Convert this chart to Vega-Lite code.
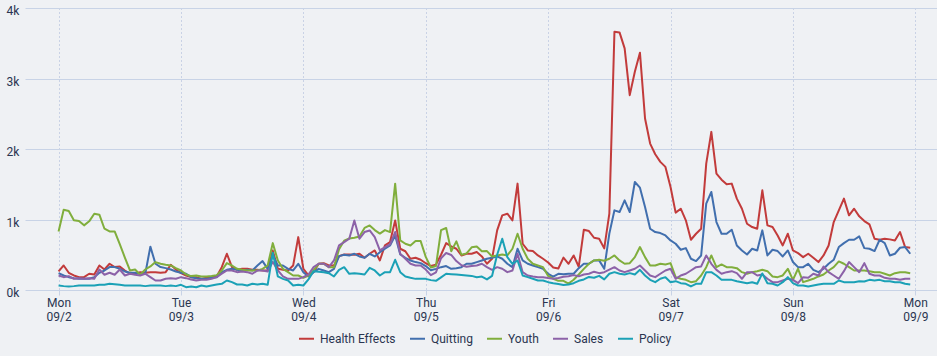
{
"$schema":"https://vega.github.io/schema/vega-lite/v6.json",
"width":912,"height":282,
"autosize":{"type":"none"},
"padding":{"left":25,"top":8,"right":0,"bottom":66},
"background":"#eff1f4",
"config":{"view":{"stroke":null},"font":"Roboto"},
"data":{"values":[
{"t":"2019-09-02T00:00","Health Effects":263,"Quitting":239,"Youth":831,"Sales":206,"Policy":64},
{"t":"2019-09-02T01:00","Health Effects":348,"Quitting":206,"Youth":1139,"Sales":182,"Policy":55},
{"t":"2019-09-02T02:00","Health Effects":244,"Quitting":182,"Youth":1120,"Sales":197,"Policy":50},
{"t":"2019-09-02T03:00","Health Effects":206,"Quitting":168,"Youth":988,"Sales":159,"Policy":55},
{"t":"2019-09-02T04:00","Health Effects":182,"Quitting":159,"Youth":978,"Sales":168,"Policy":64},
{"t":"2019-09-02T05:00","Health Effects":182,"Quitting":159,"Youth":917,"Sales":159,"Policy":64},
{"t":"2019-09-02T06:00","Health Effects":230,"Quitting":159,"Youth":974,"Sales":168,"Policy":64},
{"t":"2019-09-02T07:00","Health Effects":220,"Quitting":182,"Youth":1082,"Sales":159,"Policy":64},
{"t":"2019-09-02T08:00","Health Effects":348,"Quitting":244,"Youth":1068,"Sales":291,"Policy":74},
{"t":"2019-09-02T09:00","Health Effects":291,"Quitting":277,"Youth":869,"Sales":216,"Policy":74},
{"t":"2019-09-02T10:00","Health Effects":372,"Quitting":325,"Youth":831,"Sales":244,"Policy":88},
{"t":"2019-09-02T11:00","Health Effects":325,"Quitting":325,"Youth":831,"Sales":216,"Policy":83},
{"t":"2019-09-02T12:00","Health Effects":334,"Quitting":301,"Youth":650,"Sales":291,"Policy":74},
{"t":"2019-09-02T13:00","Health Effects":277,"Quitting":263,"Youth":460,"Sales":206,"Policy":64},
{"t":"2019-09-02T14:00","Health Effects":230,"Quitting":244,"Youth":277,"Sales":230,"Policy":64},
{"t":"2019-09-02T15:00","Health Effects":230,"Quitting":244,"Youth":291,"Sales":216,"Policy":64},
{"t":"2019-09-02T16:00","Health Effects":253,"Quitting":230,"Youth":216,"Sales":206,"Policy":64},
{"t":"2019-09-02T17:00","Health Effects":244,"Quitting":230,"Youth":291,"Sales":230,"Policy":55},
{"t":"2019-09-02T18:00","Health Effects":253,"Quitting":615,"Youth":334,"Sales":182,"Policy":64},
{"t":"2019-09-02T19:00","Health Effects":253,"Quitting":372,"Youth":396,"Sales":135,"Policy":64},
{"t":"2019-09-02T20:00","Health Effects":244,"Quitting":325,"Youth":372,"Sales":135,"Policy":64},
{"t":"2019-09-02T21:00","Health Effects":253,"Quitting":310,"Youth":358,"Sales":159,"Policy":55},
{"t":"2019-09-02T22:00","Health Effects":358,"Quitting":291,"Youth":348,"Sales":168,"Policy":64},
{"t":"2019-09-02T23:00","Health Effects":291,"Quitting":263,"Youth":310,"Sales":159,"Policy":55},
{"t":"2019-09-03T00:00","Health Effects":239,"Quitting":244,"Youth":277,"Sales":182,"Policy":74},
{"t":"2019-09-03T01:00","Health Effects":206,"Quitting":230,"Youth":220,"Sales":168,"Policy":40},
{"t":"2019-09-03T02:00","Health Effects":182,"Quitting":182,"Youth":197,"Sales":149,"Policy":50},
{"t":"2019-09-03T03:00","Health Effects":182,"Quitting":168,"Youth":206,"Sales":135,"Policy":40},
{"t":"2019-09-03T04:00","Health Effects":158,"Quitting":158,"Youth":192,"Sales":144,"Policy":64},
{"t":"2019-09-03T05:00","Health Effects":173,"Quitting":158,"Youth":192,"Sales":144,"Policy":50},
{"t":"2019-09-03T06:00","Health Effects":182,"Quitting":173,"Youth":200,"Sales":158,"Policy":64},
{"t":"2019-09-03T07:00","Health Effects":192,"Quitting":182,"Youth":210,"Sales":182,"Policy":78},
{"t":"2019-09-03T08:00","Health Effects":324,"Quitting":253,"Youth":277,"Sales":230,"Policy":88},
{"t":"2019-09-03T09:00","Health Effects":514,"Quitting":286,"Youth":381,"Sales":277,"Policy":135},
{"t":"2019-09-03T10:00","Health Effects":324,"Quitting":300,"Youth":348,"Sales":277,"Policy":111},
{"t":"2019-09-03T11:00","Health Effects":286,"Quitting":286,"Youth":300,"Sales":253,"Policy":78},
{"t":"2019-09-03T12:00","Health Effects":300,"Quitting":277,"Youth":286,"Sales":263,"Policy":78},
{"t":"2019-09-03T13:00","Health Effects":300,"Quitting":286,"Youth":277,"Sales":253,"Policy":64},
{"t":"2019-09-03T14:00","Health Effects":286,"Quitting":277,"Youth":277,"Sales":230,"Policy":88},
{"t":"2019-09-03T15:00","Health Effects":286,"Quitting":348,"Youth":277,"Sales":277,"Policy":78},
{"t":"2019-09-03T16:00","Health Effects":277,"Quitting":410,"Youth":300,"Sales":277,"Policy":88},
{"t":"2019-09-03T17:00","Health Effects":277,"Quitting":300,"Youth":348,"Sales":263,"Policy":73},
{"t":"2019-09-03T18:00","Health Effects":560,"Quitting":490,"Youth":665,"Sales":400,"Policy":530},
{"t":"2019-09-03T19:00","Health Effects":300,"Quitting":348,"Youth":419,"Sales":277,"Policy":192},
{"t":"2019-09-03T20:00","Health Effects":286,"Quitting":348,"Youth":300,"Sales":192,"Policy":158},
{"t":"2019-09-03T21:00","Health Effects":277,"Quitting":300,"Youth":253,"Sales":158,"Policy":135},
{"t":"2019-09-03T22:00","Health Effects":348,"Quitting":277,"Youth":206,"Sales":158,"Policy":64},
{"t":"2019-09-03T23:00","Health Effects":750,"Quitting":372,"Youth":206,"Sales":158,"Policy":73},
{"t":"2019-09-04T00:00","Health Effects":300,"Quitting":253,"Youth":173,"Sales":182,"Policy":64},
{"t":"2019-09-04T01:00","Health Effects":206,"Quitting":192,"Youth":206,"Sales":220,"Policy":150},
{"t":"2019-09-04T02:00","Health Effects":253,"Quitting":253,"Youth":277,"Sales":324,"Policy":267},
{"t":"2019-09-04T03:00","Health Effects":372,"Quitting":300,"Youth":372,"Sales":372,"Policy":260},
{"t":"2019-09-04T04:00","Health Effects":381,"Quitting":277,"Youth":372,"Sales":372,"Policy":253},
{"t":"2019-09-04T05:00","Health Effects":348,"Quitting":253,"Youth":324,"Sales":324,"Policy":239},
{"t":"2019-09-04T06:00","Health Effects":348,"Quitting":300,"Youth":324,"Sales":419,"Policy":192},
{"t":"2019-09-04T07:00","Health Effects":480,"Quitting":480,"Youth":580,"Sales":632,"Policy":286},
{"t":"2019-09-04T08:00","Health Effects":504,"Quitting":500,"Youth":700,"Sales":680,"Policy":324},
{"t":"2019-09-04T09:00","Health Effects":504,"Quitting":490,"Youth":730,"Sales":727,"Policy":230},
{"t":"2019-09-04T10:00","Health Effects":500,"Quitting":514,"Youth":741,"Sales":987,"Policy":239},
{"t":"2019-09-04T11:00","Health Effects":514,"Quitting":476,"Youth":760,"Sales":727,"Policy":230},
{"t":"2019-09-04T12:00","Health Effects":457,"Quitting":457,"Youth":880,"Sales":822,"Policy":220},
{"t":"2019-09-04T13:00","Health Effects":514,"Quitting":514,"Youth":916,"Sales":845,"Policy":315},
{"t":"2019-09-04T14:00","Health Effects":561,"Quitting":476,"Youth":850,"Sales":751,"Policy":277},
{"t":"2019-09-04T15:00","Health Effects":419,"Quitting":537,"Youth":800,"Sales":561,"Policy":206},
{"t":"2019-09-04T16:00","Health Effects":632,"Quitting":585,"Youth":850,"Sales":608,"Policy":253},
{"t":"2019-09-04T17:00","Health Effects":680,"Quitting":632,"Youth":820,"Sales":647,"Policy":253},
{"t":"2019-09-04T18:00","Health Effects":987,"Quitting":774,"Youth":1508,"Sales":822,"Policy":429},
{"t":"2019-09-04T19:00","Health Effects":585,"Quitting":504,"Youth":703,"Sales":514,"Policy":253},
{"t":"2019-09-04T20:00","Health Effects":550,"Quitting":457,"Youth":656,"Sales":443,"Policy":192},
{"t":"2019-09-04T21:00","Health Effects":443,"Quitting":419,"Youth":632,"Sales":372,"Policy":173},
{"t":"2019-09-04T22:00","Health Effects":457,"Quitting":396,"Youth":694,"Sales":348,"Policy":158},
{"t":"2019-09-04T23:00","Health Effects":429,"Quitting":381,"Youth":694,"Sales":348,"Policy":158},
{"t":"2019-09-05T00:00","Health Effects":380,"Quitting":340,"Youth":470,"Sales":290,"Policy":158},
{"t":"2019-09-05T01:00","Health Effects":340,"Quitting":280,"Youth":320,"Sales":210,"Policy":140},
{"t":"2019-09-05T02:00","Health Effects":360,"Quitting":300,"Youth":340,"Sales":250,"Policy":130},
{"t":"2019-09-05T03:00","Health Effects":500,"Quitting":324,"Youth":850,"Sales":450,"Policy":180},
{"t":"2019-09-05T04:00","Health Effects":665,"Quitting":340,"Youth":880,"Sales":525,"Policy":230},
{"t":"2019-09-05T05:00","Health Effects":620,"Quitting":301,"Youth":550,"Sales":497,"Policy":225},
{"t":"2019-09-05T06:00","Health Effects":585,"Quitting":310,"Youth":690,"Sales":410,"Policy":220},
{"t":"2019-09-05T07:00","Health Effects":490,"Quitting":324,"Youth":500,"Sales":350,"Policy":213},
{"t":"2019-09-05T08:00","Health Effects":514,"Quitting":372,"Youth":520,"Sales":330,"Policy":206},
{"t":"2019-09-05T09:00","Health Effects":514,"Quitting":372,"Youth":605,"Sales":340,"Policy":200},
{"t":"2019-09-05T10:00","Health Effects":538,"Quitting":396,"Youth":618,"Sales":348,"Policy":180},
{"t":"2019-09-05T11:00","Health Effects":476,"Quitting":419,"Youth":550,"Sales":372,"Policy":190},
{"t":"2019-09-05T12:00","Health Effects":372,"Quitting":443,"Youth":552,"Sales":324,"Policy":150},
{"t":"2019-09-05T13:00","Health Effects":443,"Quitting":457,"Youth":476,"Sales":286,"Policy":200},
{"t":"2019-09-05T14:00","Health Effects":846,"Quitting":476,"Youth":490,"Sales":324,"Policy":500},
{"t":"2019-09-05T15:00","Health Effects":1059,"Quitting":443,"Youth":504,"Sales":301,"Policy":727},
{"t":"2019-09-05T16:00","Health Effects":1082,"Quitting":372,"Youth":490,"Sales":253,"Policy":466},
{"t":"2019-09-05T17:00","Health Effects":988,"Quitting":324,"Youth":585,"Sales":277,"Policy":370},
{"t":"2019-09-05T18:00","Health Effects":1509,"Quitting":585,"Youth":798,"Sales":514,"Policy":419},
{"t":"2019-09-05T19:00","Health Effects":656,"Quitting":419,"Youth":585,"Sales":253,"Policy":206},
{"t":"2019-09-05T20:00","Health Effects":561,"Quitting":372,"Youth":443,"Sales":206,"Policy":182},
{"t":"2019-09-05T21:00","Health Effects":552,"Quitting":348,"Youth":372,"Sales":192,"Policy":159},
{"t":"2019-09-05T22:00","Health Effects":490,"Quitting":324,"Youth":348,"Sales":182,"Policy":135},
{"t":"2019-09-05T23:00","Health Effects":443,"Quitting":301,"Youth":324,"Sales":182,"Policy":135},
{"t":"2019-09-06T00:00","Health Effects":390,"Quitting":230,"Youth":200,"Sales":170,"Policy":111},
{"t":"2019-09-06T01:00","Health Effects":320,"Quitting":190,"Youth":160,"Sales":160,"Policy":97},
{"t":"2019-09-06T02:00","Health Effects":305,"Quitting":230,"Youth":130,"Sales":170,"Policy":85},
{"t":"2019-09-06T03:00","Health Effects":460,"Quitting":225,"Youth":130,"Sales":187,"Policy":70},
{"t":"2019-09-06T04:00","Health Effects":372,"Quitting":230,"Youth":92,"Sales":194,"Policy":78},
{"t":"2019-09-06T05:00","Health Effects":490,"Quitting":230,"Youth":145,"Sales":211,"Policy":97},
{"t":"2019-09-06T06:00","Health Effects":330,"Quitting":310,"Youth":220,"Sales":194,"Policy":130},
{"t":"2019-09-06T07:00","Health Effects":855,"Quitting":372,"Youth":300,"Sales":220,"Policy":150},
{"t":"2019-09-06T08:00","Health Effects":836,"Quitting":372,"Youth":372,"Sales":230,"Policy":185},
{"t":"2019-09-06T09:00","Health Effects":741,"Quitting":419,"Youth":419,"Sales":260,"Policy":173},
{"t":"2019-09-06T10:00","Health Effects":727,"Quitting":420,"Youth":429,"Sales":239,"Policy":200},
{"t":"2019-09-06T11:00","Health Effects":590,"Quitting":301,"Youth":415,"Sales":253,"Policy":150},
{"t":"2019-09-06T12:00","Health Effects":1082,"Quitting":800,"Youth":443,"Sales":288,"Policy":230},
{"t":"2019-09-06T13:00","Health Effects":3664,"Quitting":1130,"Youth":490,"Sales":324,"Policy":253},
{"t":"2019-09-06T14:00","Health Effects":3654,"Quitting":1106,"Youth":419,"Sales":277,"Policy":230},
{"t":"2019-09-06T15:00","Health Effects":3427,"Quitting":1272,"Youth":372,"Sales":253,"Policy":220},
{"t":"2019-09-06T16:00","Health Effects":2764,"Quitting":1106,"Youth":381,"Sales":277,"Policy":239},
{"t":"2019-09-06T17:00","Health Effects":3096,"Quitting":1532,"Youth":466,"Sales":301,"Policy":220},
{"t":"2019-09-06T18:00","Health Effects":3366,"Quitting":1452,"Youth":609,"Sales":348,"Policy":286},
{"t":"2019-09-06T19:00","Health Effects":2432,"Quitting":1177,"Youth":466,"Sales":277,"Policy":206},
{"t":"2019-09-06T20:00","Health Effects":2077,"Quitting":869,"Youth":348,"Sales":206,"Policy":144},
{"t":"2019-09-06T21:00","Health Effects":1926,"Quitting":822,"Youth":348,"Sales":182,"Policy":111},
{"t":"2019-09-06T22:00","Health Effects":1817,"Quitting":808,"Youth":372,"Sales":230,"Policy":159},
{"t":"2019-09-06T23:00","Health Effects":1746,"Quitting":774,"Youth":362,"Sales":277,"Policy":182},
{"t":"2019-09-07T00:00","Health Effects":1461,"Quitting":703,"Youth":381,"Sales":301,"Policy":111},
{"t":"2019-09-07T01:00","Health Effects":1097,"Quitting":656,"Youth":182,"Sales":159,"Policy":125},
{"t":"2019-09-07T02:00","Health Effects":1153,"Quitting":571,"Youth":159,"Sales":206,"Policy":97},
{"t":"2019-09-07T03:00","Health Effects":988,"Quitting":594,"Youth":144,"Sales":230,"Policy":88},
{"t":"2019-09-07T04:00","Health Effects":713,"Quitting":443,"Youth":111,"Sales":277,"Policy":50},
{"t":"2019-09-07T05:00","Health Effects":798,"Quitting":410,"Youth":125,"Sales":324,"Policy":88},
{"t":"2019-09-07T06:00","Health Effects":869,"Quitting":490,"Youth":206,"Sales":334,"Policy":88},
{"t":"2019-09-07T07:00","Health Effects":1793,"Quitting":1224,"Youth":324,"Sales":490,"Policy":253},
{"t":"2019-09-07T08:00","Health Effects":2243,"Quitting":1390,"Youth":490,"Sales":372,"Policy":253},
{"t":"2019-09-07T09:00","Health Effects":1651,"Quitting":964,"Youth":324,"Sales":286,"Policy":206},
{"t":"2019-09-07T10:00","Health Effects":1565,"Quitting":798,"Youth":362,"Sales":230,"Policy":144},
{"t":"2019-09-07T11:00","Health Effects":1499,"Quitting":798,"Youth":324,"Sales":253,"Policy":144},
{"t":"2019-09-07T12:00","Health Effects":1509,"Quitting":855,"Youth":324,"Sales":267,"Policy":144},
{"t":"2019-09-07T13:00","Health Effects":1296,"Quitting":632,"Youth":310,"Sales":239,"Policy":125},
{"t":"2019-09-07T14:00","Health Effects":1153,"Quitting":561,"Youth":253,"Sales":159,"Policy":111},
{"t":"2019-09-07T15:00","Health Effects":940,"Quitting":504,"Youth":230,"Sales":253,"Policy":97},
{"t":"2019-09-07T16:00","Health Effects":893,"Quitting":585,"Youth":253,"Sales":253,"Policy":111},
{"t":"2019-09-07T17:00","Health Effects":869,"Quitting":561,"Youth":267,"Sales":206,"Policy":88},
{"t":"2019-09-07T18:00","Health Effects":1414,"Quitting":846,"Youth":286,"Sales":220,"Policy":235},
{"t":"2019-09-07T19:00","Health Effects":917,"Quitting":490,"Youth":267,"Sales":159,"Policy":97},
{"t":"2019-09-07T20:00","Health Effects":893,"Quitting":571,"Youth":192,"Sales":111,"Policy":88},
{"t":"2019-09-07T21:00","Health Effects":774,"Quitting":552,"Youth":182,"Sales":111,"Policy":64},
{"t":"2019-09-07T22:00","Health Effects":632,"Quitting":476,"Youth":206,"Sales":135,"Policy":111},
{"t":"2019-09-07T23:00","Health Effects":798,"Quitting":561,"Youth":301,"Sales":159,"Policy":182},
{"t":"2019-09-08T00:00","Health Effects":561,"Quitting":396,"Youth":144,"Sales":144,"Policy":97},
{"t":"2019-09-08T01:00","Health Effects":523,"Quitting":324,"Youth":301,"Sales":97,"Policy":64},
{"t":"2019-09-08T02:00","Health Effects":466,"Quitting":324,"Youth":111,"Sales":182,"Policy":64},
{"t":"2019-09-08T03:00","Health Effects":514,"Quitting":372,"Youth":135,"Sales":173,"Policy":50},
{"t":"2019-09-08T04:00","Health Effects":457,"Quitting":286,"Youth":159,"Sales":230,"Policy":64},
{"t":"2019-09-08T05:00","Health Effects":396,"Quitting":253,"Youth":192,"Sales":206,"Policy":78},
{"t":"2019-09-08T06:00","Health Effects":490,"Quitting":301,"Youth":220,"Sales":334,"Policy":88},
{"t":"2019-09-08T07:00","Health Effects":632,"Quitting":372,"Youth":277,"Sales":253,"Policy":88},
{"t":"2019-09-08T08:00","Health Effects":964,"Quitting":429,"Youth":324,"Sales":206,"Policy":88},
{"t":"2019-09-08T09:00","Health Effects":1130,"Quitting":609,"Youth":405,"Sales":159,"Policy":135},
{"t":"2019-09-08T10:00","Health Effects":1296,"Quitting":665,"Youth":372,"Sales":267,"Policy":111},
{"t":"2019-09-08T11:00","Health Effects":1059,"Quitting":713,"Youth":324,"Sales":396,"Policy":111},
{"t":"2019-09-08T12:00","Health Effects":1153,"Quitting":713,"Youth":277,"Sales":324,"Policy":111},
{"t":"2019-09-08T13:00","Health Effects":1045,"Quitting":760,"Youth":277,"Sales":253,"Policy":125},
{"t":"2019-09-08T14:00","Health Effects":978,"Quitting":594,"Youth":277,"Sales":381,"Policy":120},
{"t":"2019-09-08T15:00","Health Effects":931,"Quitting":585,"Youth":267,"Sales":230,"Policy":144},
{"t":"2019-09-08T16:00","Health Effects":727,"Quitting":552,"Youth":253,"Sales":206,"Policy":135},
{"t":"2019-09-08T17:00","Health Effects":713,"Quitting":713,"Youth":253,"Sales":206,"Policy":144},
{"t":"2019-09-08T18:00","Health Effects":727,"Quitting":665,"Youth":230,"Sales":173,"Policy":125},
{"t":"2019-09-08T19:00","Health Effects":718,"Quitting":490,"Youth":206,"Sales":159,"Policy":125},
{"t":"2019-09-08T20:00","Health Effects":703,"Quitting":514,"Youth":239,"Sales":159,"Policy":111},
{"t":"2019-09-08T21:00","Health Effects":822,"Quitting":599,"Youth":253,"Sales":144,"Policy":111},
{"t":"2019-09-08T22:00","Health Effects":609,"Quitting":609,"Youth":253,"Sales":159,"Policy":88},
{"t":"2019-09-08T23:00","Health Effects":599,"Quitting":514,"Youth":239,"Sales":159,"Policy":78}
]},
"transform":[{"fold":["Health Effects","Quitting","Youth","Sales","Policy"],"as":["series","value"]}],
"mark":{"type":"line","strokeWidth":2,"strokeJoin":"round"},
"encoding":{
"x":{"field":"t","type":"temporal","title":null,
"scale":{"domain":[{"year":2019,"month":9,"date":1,"hours":17,"minutes":25},{"year":2019,"month":9,"date":9,"hours":4,"minutes":15}]},
"axis":{"values":[{"year":2019,"month":9,"date":2},{"year":2019,"month":9,"date":3},{"year":2019,"month":9,"date":4},{"year":2019,"month":9,"date":5},{"year":2019,"month":9,"date":6},{"year":2019,"month":9,"date":7},{"year":2019,"month":9,"date":8},{"year":2019,"month":9,"date":9}],
"labelExpr":"[timeFormat(datum.value,'%a'), timeFormat(datum.value,'%m/%-d')]",
"grid":true,"gridDash":[1,3],"gridColor":"#a3b3d6","gridWidth":1,
"domain":false,"ticks":true,"tickSize":5,"tickColor":"#c8d3e6",
"labelFontSize":12,"labelColor":"#2a3550","labelLineHeight":14.5,"labelPadding":2,"labelFlush":false,"labelBaseline":"top"}},
"y":{"field":"value","type":"quantitative","title":null,
"scale":{"domain":[0,4000],"nice":false},
"axis":{"values":[0,1000,2000,3000,4000],"labelExpr":"datum.value/1000 + 'k'",
"grid":true,"gridColor":"#c8d3e6","gridWidth":1,"domain":false,"ticks":false,"tickSize":0,
"labelAlign":"left","labelPadding":19,"labelBaseline":"alphabetic","labelOffset":6.5,"labelFlush":false,
"labelFontSize":12,"labelColor":"#2a3550"}},
"color":{"field":"series","type":"nominal",
"scale":{"domain":["Health Effects","Quitting","Youth","Sales","Policy"],"range":["#c23b3b","#416fae","#80ae3c","#8c62a8","#1ba1b6"]},
"legend":{"orient":"none","legendX":273,"legendY":322,"direction":"horizontal","title":null,"symbolType":"stroke","symbolSize":225,"symbolStrokeWidth":2,"labelFontSize":12,"labelColor":"#2a3550","labelOffset":5,"columnPadding":10,"padding":0}}
}
}
